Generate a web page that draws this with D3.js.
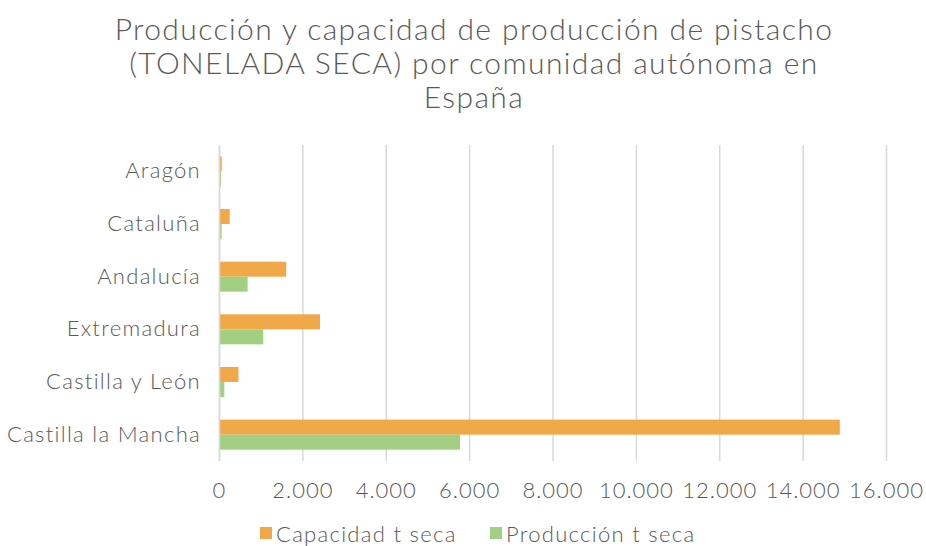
<!DOCTYPE html>
<html>
<head>
<meta charset="utf-8">
<script src="https://cdn.jsdelivr.net/npm/d3@7"></script>
<style>
  body { margin: 0; background: #fff; }
  text { font-family: "Lato", sans-serif; font-weight: 300; fill: #595959; letter-spacing: 1.3px; }
</style>
</head>
<body>
<div id="cont"></div>
<script>
// regions, top to bottom
var regions = ["Aragón", "Cataluña", "Andalucía", "Extremadura", "Castilla y León", "Castilla la Mancha"];
var capacidad = [55, 245, 1600, 2410, 455, 14880];
var produccion = [35, 50, 675, 1050, 115, 5770];
var ticks = [0, 2000, 4000, 6000, 8000, 10000, 12000, 14000, 16000];
var seriesNames = ["Capacidad t seca", "Producción t seca"];
var colors = ["#F0A848", "#A3CF83"];

var W = 926, H = 546;
var svg = d3.select("#cont").append("svg")
  .attr("width", W)
  .attr("height", H);

// title
var titleLines = ["Producción y capacidad de producción de pistacho", "(TONELADA SECA) por comunidad autónoma en", "España"];
svg.selectAll("text.title")
  .data(titleLines)
  .enter()
  .append("text")
  .attr("class", "title")
  .attr("x", 474)
  .attr("y", function(d, i) { return 40 + i * 34; })
  .attr("text-anchor", "middle")
  .style("font-size", "30px")
  .style("letter-spacing", "1.4px")
  .text(function(d) { return d; });

var x = d3.scaleLinear().domain([0, 16000]).range([219.5, 886.5]);
var y = d3.scaleBand().domain(regions).range([145, 461]).paddingInner(0.43).paddingOuter(0.215);

// gridlines
svg.selectAll("line.grid")
  .data(ticks)
  .enter()
  .append("line")
  .attr("x1", function(d) { return x(d); })
  .attr("x2", function(d) { return x(d); })
  .attr("y1", 145)
  .attr("y2", 461)
  .style("stroke", "#D9D9D9")
  .style("stroke-width", 1.5);

// bars
var bh = y.bandwidth() / 2;
svg.selectAll("rect.cap")
  .data(capacidad)
  .enter()
  .append("rect")
  .attr("x", x(0))
  .attr("y", function(d, i) { return y(regions[i]); })
  .attr("width", function(d) { return x(d) - x(0); })
  .attr("height", bh)
  .style("fill", colors[0]);

svg.selectAll("rect.prod")
  .data(produccion)
  .enter()
  .append("rect")
  .attr("x", x(0))
  .attr("y", function(d, i) { return y(regions[i]) + bh; })
  .attr("width", function(d) { return x(d) - x(0); })
  .attr("height", bh)
  .style("fill", colors[1]);

// axis line at 0
svg.append("line")
  .attr("x1", x(0)).attr("x2", x(0))
  .attr("y1", 145).attr("y2", 461)
  .style("stroke", "#D9D9D9")
  .style("stroke-width", 1.5);

// x tick labels
var fmt = function(d) { return d3.format(",")(d).replace(/,/g, "."); };
svg.selectAll("text.xt")
  .data(ticks)
  .enter()
  .append("text")
  .attr("x", function(d) { return x(d); })
  .attr("y", 498)
  .attr("text-anchor", "middle")
  .style("font-size", "22px")
  .style("letter-spacing", "1px")
  .text(fmt);

// category labels
svg.selectAll("text.cat")
  .data(regions)
  .enter()
  .append("text")
  .attr("x", 201)
  .attr("y", function(d) { return y(d) + bh + 7; })
  .attr("text-anchor", "end")
  .style("font-size", "22px")
  .text(function(d) { return d; });

// legend
var legX = [260, 490];
var leg = svg.selectAll("g.leg")
  .data(seriesNames)
  .enter()
  .append("g")
  .attr("transform", function(d, i) { return "translate(" + legX[i] + ",0)"; });
leg.append("rect")
  .attr("x", 0).attr("y", 527)
  .attr("width", 12).attr("height", 12)
  .style("fill", function(d, i) { return colors[i]; });
leg.append("text")
  .attr("x", 16).attr("y", 542)
  .style("font-size", "22px")
  .text(function(d) { return d; });
</script>
</body>
</html>
